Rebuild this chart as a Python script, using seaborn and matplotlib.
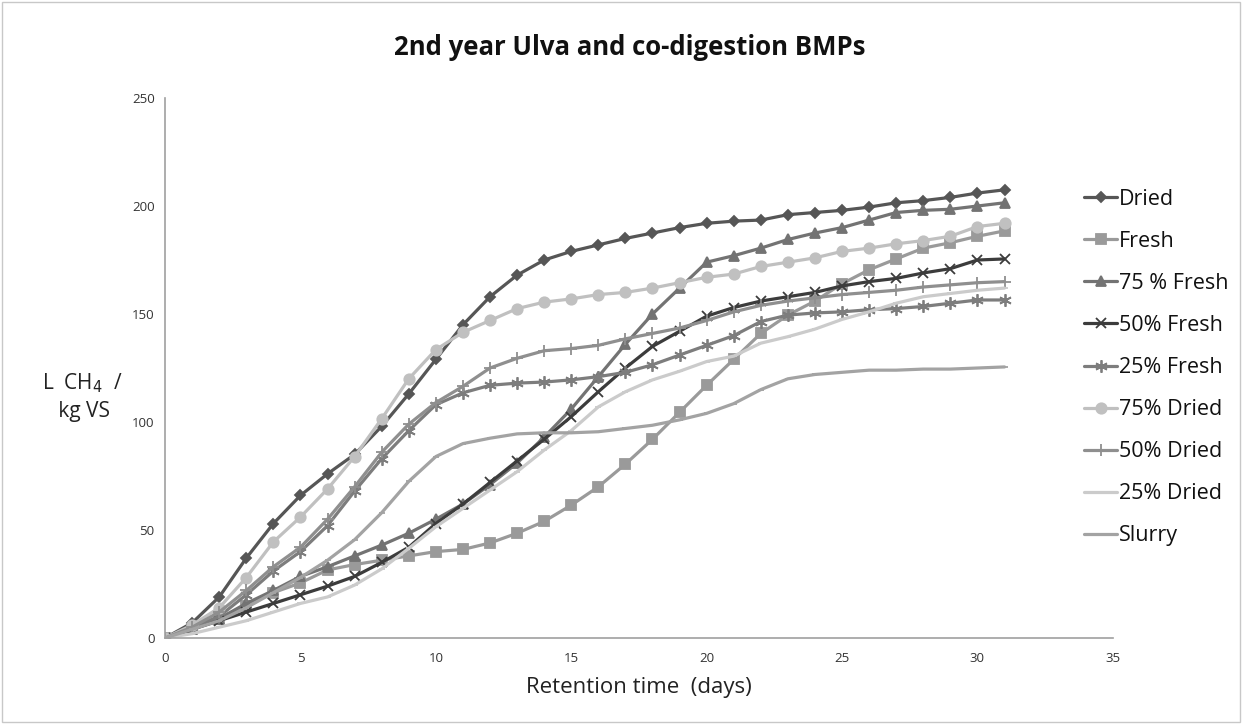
import numpy as np
import pandas as pd
import seaborn as sns
import matplotlib.pyplot as plt
from matplotlib.patches import Rectangle

# retention time (days)
days = list(range(0, 32))

# cumulative methane yields, L CH4 / kg VS
dried = [0, 7, 19, 37, 53, 66, 76, 85, 98, 113, 129, 145, 158, 168, 175, 179,
         182, 185, 187.5, 190, 192, 193, 193.5, 196, 197, 198, 199.5, 201.5, 202.5, 204, 206, 207.5]
fresh = [0, 4, 9, 15, 21, 25.5, 31.5, 34, 36, 38, 40, 41, 44, 48.5, 54, 61.5,
         70, 80.5, 92, 104.5, 117, 129, 141, 149.5, 156, 164, 170.5, 175.5, 180.5, 183, 186, 188.5]
fresh_75 = [0, 4, 9, 16, 22, 28.5, 33, 38, 43, 48.5, 55, 62, 71, 81, 93, 106,
            121, 136, 150, 162, 174, 177, 180.5, 184.5, 187.5, 190, 193.5, 197, 198, 198.5, 200, 201.5]
fresh_50 = [0, 4, 8, 12, 16, 20, 24, 28.5, 35, 42, 53, 62, 72, 82, 92, 102.5,
            114, 125, 135, 142, 149, 153, 156, 158, 160, 163, 165, 166.5, 169, 171, 175, 175.5]
fresh_25 = [0, 5, 10, 20, 31, 40, 52, 68, 83, 96, 108, 113.5, 117, 118, 118.5, 119.5,
            121, 123, 126.5, 131, 135.5, 140, 146.5, 149.5, 150.5, 151, 152, 152.5, 153.5, 155, 156.5, 156.5]
dried_75 = [0, 6, 14, 28, 44.5, 56, 69, 84, 101.5, 120, 133.5, 141.5, 147, 152.5, 155.5, 157,
            159, 160, 162, 164.5, 167, 168.5, 172, 174, 176, 179, 180.5, 182.5, 184, 186, 190.5, 192]
dried_50 = [0, 5, 12, 22, 33, 42, 55, 70, 86, 99, 109, 116.5, 125, 129.5, 133, 134,
            135.5, 138.5, 141, 143.5, 147, 151, 154, 156, 157.5, 159, 160, 161, 162.5, 163.5, 164.5, 165]
dried_25 = [0, 2, 5, 8, 12, 16, 19, 24.5, 32, 41.5, 51.5, 60, 68.5, 77, 87, 96,
            107, 114, 119.5, 123.5, 128, 130.5, 136.5, 139.5, 143, 147.5, 151, 155, 158, 159.5, 161, 162]
slurry = [0, 4, 8, 14, 21, 28, 36, 45.5, 58, 72.5, 84, 90, 92.5, 94.5, 95, 95,
          95.5, 97, 98.5, 101, 104, 108.5, 115, 120, 122, 123, 124, 124, 124.5, 124.5, 125, 125.5]

labels = ["Dried", "Fresh", "75 % Fresh", "50% Fresh", "25% Fresh",
          "75% Dried", "50% Dried", "25% Dried", "Slurry"]
series = [dried, fresh, fresh_75, fresh_50, fresh_25, dried_75, dried_50, dried_25, slurry]

colors = ["#565656", "#9a9a9a", "#737373", "#3c3c3c", "#7d7d7d",
          "#c0c0c0", "#8f8f8f", "#cbcbcb", "#a3a3a3"]
markers = ["D", "s", "^", "x", (6, 2, 0), "o", "+", "_", "_"]
msizes = [5, 6.5, 7, 7, 9, 7.5, 9, 5, 5]

sns.set_style("white")
plt.rcParams["font.family"] = ["Open Sans", "DejaVu Sans"]

fig = plt.figure(figsize=(12.42, 7.24), dpi=100)
ax = fig.add_axes([0.1329, 0.1188, 0.896 - 0.1329, 0.8646 - 0.1188])

for lab, vals, c, m, ms in zip(labels, series, colors, markers, msizes):
    df = pd.DataFrame({"day": days, "yield": vals})
    sns.lineplot(data=df, x="day", y="yield", ax=ax, color=c, linewidth=2.3,
                 marker=m, markersize=ms, markeredgecolor=c, markerfacecolor=c,
                 markeredgewidth=1.3, label=lab)

ax.set_xlim(0, 35)
ax.set_ylim(0, 250)
ax.set_xticks(range(0, 36, 5))
ax.set_yticks(range(0, 251, 50))
ax.tick_params(axis="both", labelsize=9.5, colors="#333333", length=4,
               width=1, direction="out", color="#9a9a9a")
ax.tick_params(axis="x", pad=6)
for side in ["top", "right"]:
    ax.spines[side].set_visible(False)
for side in ["left", "bottom"]:
    ax.spines[side].set_color("#a0a0a0")
    ax.spines[side].set_linewidth(1.2)

ax.set_xlabel("Retention time  (days)", fontsize=16, color="#222222", labelpad=9)
ax.set_ylabel("")
fig.text(0.066, 0.452, "L  CH$_4$  /\n kg VS", fontsize=15, color="#222222",
         ha="center", va="center", linespacing=1.4)
fig.text(0.507, 0.934, "2nd year Ulva and co-digestion BMPs", fontsize=18.5,
         fontweight="bold", ha="center", va="center", color="#111111")

leg = ax.legend(loc="upper left", bbox_to_anchor=(0.961, 0.848), frameon=False,
                fontsize=15.5, handlelength=1.5, handletextpad=0.12,
                labelspacing=0.98, borderaxespad=0)
for t in leg.get_texts():
    t.set_color("#111111")

fig.patches.append(Rectangle((0.002, 0.003), 0.996, 0.994, transform=fig.transFigure,
                             fill=False, edgecolor="#c8c8c8", linewidth=1))

fig.savefig("out.png", dpi=100)
